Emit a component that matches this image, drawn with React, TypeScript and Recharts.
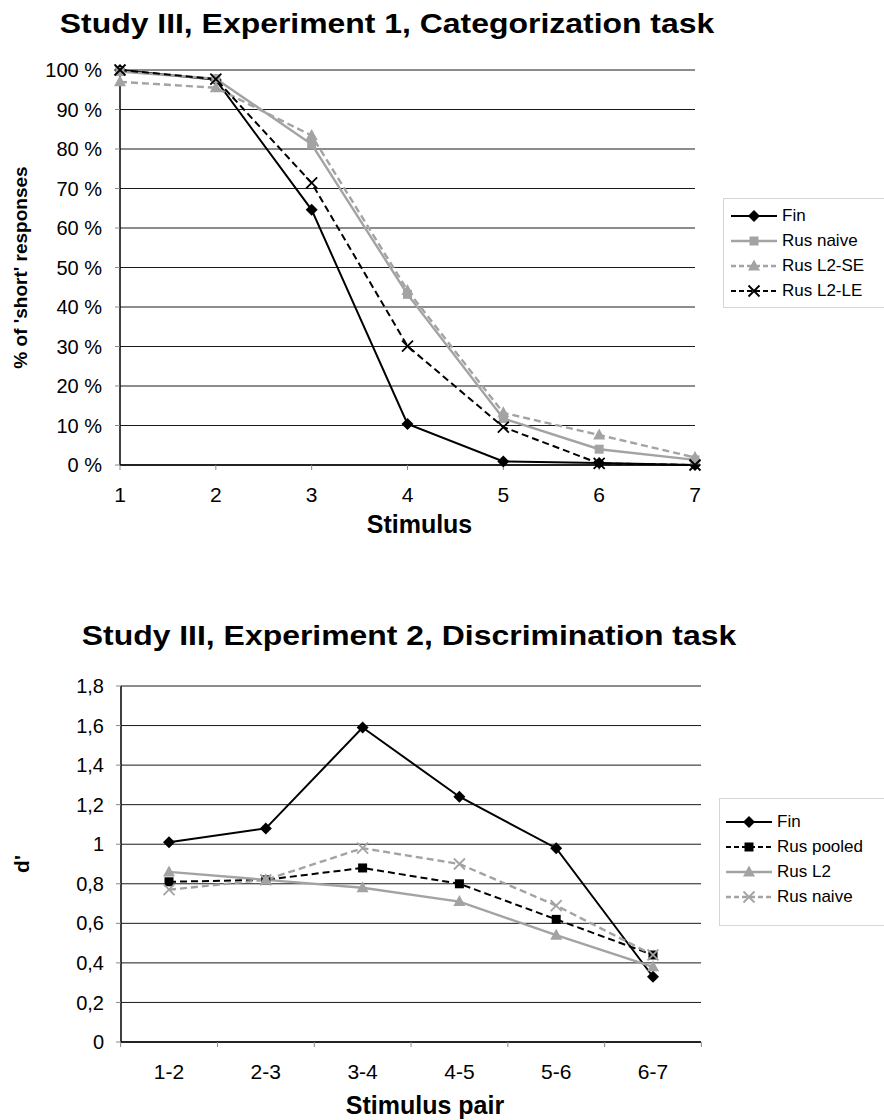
import React from 'react';
import { LineChart, Line, XAxis, YAxis, CartesianGrid, Legend } from 'recharts';

// Experiment 1: categorization (% of 'short' responses)
const stimuli = ['1', '2', '3', '4', '5', '6', '7'];
const finCat = [100, 97.5, 64.6, 10.4, 0.9, 0.5, 0];
const rusNaiveCat = [99.6, 97.8, 81.2, 43.2, 11.8, 4, 1.3];
const rusL2SE = [97, 95.5, 83.4, 44.2, 13.2, 7.6, 1.9];
const rusL2LE = [100, 97.7, 71.4, 30.1, 9.6, 0.4, 0];
const pctTicks = [0, 10, 20, 30, 40, 50, 60, 70, 80, 90, 100];

// Experiment 2: discrimination (d')
const pairs = ['1-2', '2-3', '3-4', '4-5', '5-6', '6-7'];
const finDis = [1.01, 1.08, 1.59, 1.24, 0.98, 0.33];
const rusPooled = [0.81, 0.82, 0.88, 0.8, 0.62, 0.44];
const rusL2 = [0.86, 0.82, 0.78, 0.71, 0.54, 0.38];
const rusNaiveDis = [0.77, 0.82, 0.98, 0.9, 0.69, 0.44];
const dTicks = [0, 0.2, 0.4, 0.6, 0.8, 1, 1.2, 1.4, 1.6, 1.8];

const FONT = '"Liberation Sans", Arial, sans-serif';
const GRAY = '#a3a3a3';

const catData = stimuli.map((s, i) => ({
  s,
  fin: finCat[i],
  naive: rusNaiveCat[i],
  se: rusL2SE[i],
  le: rusL2LE[i],
}));

const disData = pairs.map((p, i) => ({
  p,
  fin: finDis[i],
  pooled: rusPooled[i],
  l2: rusL2[i],
  naive: rusNaiveDis[i],
}));

type Shape = 'diamond' | 'square' | 'triangle' | 'x';

const Marker = ({ shape, color, cx, cy }: { shape: Shape; color: string; cx: number; cy: number }) => {
  if (cx == null || cy == null) return null;
  if (shape === 'diamond')
    return <polygon points={`${cx},${cy - 6} ${cx + 6},${cy} ${cx},${cy + 6} ${cx - 6},${cy}`} fill={color} />;
  if (shape === 'square') return <rect x={cx - 4.5} y={cy - 4.5} width={9} height={9} fill={color} />;
  if (shape === 'triangle')
    return <polygon points={`${cx},${cy - 6.5} ${cx + 6},${cy + 4.5} ${cx - 6},${cy + 4.5}`} fill={color} />;
  return (
    <path
      d={`M${cx - 5.5},${cy - 5.5}L${cx + 5.5},${cy + 5.5}M${cx + 5.5},${cy - 5.5}L${cx - 5.5},${cy + 5.5}`}
      stroke={color}
      strokeWidth={1.8}
    />
  );
};

type Series = { key: string; name: string; color: string; dash?: string; shape: Shape; width: number };

const catSeries: Series[] = [
  { key: 'fin', name: 'Fin', color: '#000', shape: 'diamond', width: 2 },
  { key: 'naive', name: 'Rus naive', color: GRAY, shape: 'square', width: 2.4 },
  { key: 'se', name: 'Rus L2-SE', color: GRAY, dash: '7 4', shape: 'triangle', width: 2.4 },
  { key: 'le', name: 'Rus L2-LE', color: '#000', dash: '7 4', shape: 'x', width: 2 },
];

const disSeries: Series[] = [
  { key: 'fin', name: 'Fin', color: '#000', shape: 'diamond', width: 2 },
  { key: 'pooled', name: 'Rus pooled', color: '#000', dash: '7 4', shape: 'square', width: 2 },
  { key: 'l2', name: 'Rus L2', color: GRAY, shape: 'triangle', width: 2.4 },
  { key: 'naive', name: 'Rus naive', color: GRAY, dash: '7 4', shape: 'x', width: 2.4 },
];

const LegendBox = ({ items, pad }: { items: Series[]; pad: string }) => (
  <div
    style={{
      border: '1px solid #d6d6d6',
      background: '#fff',
      padding: pad,
      width: 200,
      fontFamily: FONT,
      fontSize: 17,
      color: '#000',
    }}
  >
    {items.map((it) => (
      <div key={it.key} style={{ display: 'flex', alignItems: 'center', height: 25 }}>
        <svg width={48} height={14}>
          <line x1={0} x2={46} y1={7} y2={7} stroke={it.color} strokeWidth={it.width} strokeDasharray={it.dash ? '5 3' : undefined} />
          <Marker shape={it.shape} color={it.color} cx={23} cy={7} />
        </svg>
        <span style={{ marginLeft: 3 }}>{it.name}</span>
      </div>
    ))}
  </div>
);

const renderLines = (series: Series[]) =>
  series.map((s) => (
    <Line
      key={s.key}
      dataKey={s.key}
      name={s.name}
      stroke={s.color}
      strokeWidth={s.width}
      strokeDasharray={s.dash}
      isAnimationActive={false}
      dot={(p: any) => <Marker key={`${s.key}-${p.index}`} shape={s.shape} color={s.color} cx={p.cx} cy={p.cy} />}
      activeDot={false}
    />
  ));

const dFormat = (v: number) => String(Math.round(v * 10) / 10).replace('.', ',');

// tick marks sit between categories on the discrimination chart
const PairTick = (props: any) => {
  const { x, y, payload, index, visibleTicksCount, width } = props;
  const half = width / visibleTicksCount / 2;
  return (
    <g>
      <line x1={x - half} x2={x - half} y1={y - 8} y2={y - 3} stroke="#888" />
      {index === visibleTicksCount - 1 && <line x1={x + half} x2={x + half} y1={y - 8} y2={y - 3} stroke="#888" />}
      <text x={x} y={y + 29} textAnchor="middle" fontSize={21} fontFamily={FONT} fill="#000">
        {payload.value}
      </text>
    </g>
  );
};

const Title = ({ text, center, top }: { text: string; center: number; top: number }) => (
  <div
    style={{
      position: 'absolute',
      left: center - 400,
      top,
      width: 800,
      textAlign: 'center',
      fontFamily: FONT,
      fontWeight: 'bold',
      fontSize: 28,
      lineHeight: '32px',
      color: '#000',
      whiteSpace: 'nowrap',
      transform: 'scaleX(1.14)',
    }}
  >
    {text}
  </div>
);

export default function App() {
  return (
    <div style={{ position: 'absolute', top: 0, left: 0, width: 884, height: 1120, overflow: 'hidden', background: '#fff' }}>
      <Title text="Study III, Experiment 1, Categorization task" center={387} top={8} />
      <div style={{ position: 'absolute', top: 0, left: 0 }}>
        <LineChart width={884} height={560} data={catData} margin={{ top: 70, right: 189, bottom: 0, left: 0 }}>
          <CartesianGrid vertical={false} stroke="#1a1a1a" />
          <XAxis
            dataKey="s"
            height={95}
            axisLine={{ stroke: '#000', strokeWidth: 1.5 }}
            tickLine={{ stroke: '#888' }}
            tickSize={5}
            tickMargin={17}
            tick={{ fontSize: 21, fontFamily: FONT, fill: '#000' }}
            label={{
              value: 'Stimulus',
              position: 'insideBottom',
              offset: 27,
              dx: 12,
              style: { fontSize: 25, fontWeight: 'bold', fontFamily: FONT, fill: '#000' },
            }}
          />
          <XAxis xAxisId="top" dataKey="s" orientation="top" height={0} tick={false} tickLine={false} axisLine={{ stroke: GRAY, strokeWidth: 1.5 }} />
          <YAxis
            width={120}
            domain={[0, 100]}
            ticks={pctTicks}
            interval={0}
            axisLine={{ stroke: '#000', strokeWidth: 1.5 }}
            tickLine={{ stroke: '#888' }}
            tickSize={5}
            tickMargin={13}
            tickFormatter={(v: number) => `${v} %`}
            tick={{ fontSize: 20, fontFamily: FONT, fill: '#000' }}
            label={{
              value: "% of 'short' responses",
              angle: -90,
              position: 'insideLeft',
              offset: 20,
              style: { textAnchor: 'middle', fontSize: 19, fontWeight: 'bold', fontFamily: FONT, fill: '#000' },
            }}
          />
          <YAxis yAxisId="right" orientation="right" width={0} tick={false} tickLine={false} axisLine={{ stroke: GRAY, strokeWidth: 1.5 }} />
          <Legend
            layout="vertical"
            align="center"
            verticalAlign="middle"
            wrapperStyle={{ position: 'absolute', left: 723, top: 198, width: 210 }}
            content={() => <LegendBox items={catSeries} pad="4px 0 4px 7px" />}
          />
          {renderLines(catSeries)}
        </LineChart>
      </div>

      <Title text="Study III, Experiment 2, Discrimination task" center={409} top={620} />
      <div style={{ position: 'absolute', top: 600, left: 0 }}>
        <LineChart width={884} height={520} data={disData} margin={{ top: 86, right: 183, bottom: 0, left: 0 }}>
          <CartesianGrid vertical={false} stroke="#1a1a1a" />
          <XAxis
            dataKey="p"
            height={78}
            padding={{ left: 48, right: 48 }}
            axisLine={{ stroke: '#000', strokeWidth: 1.5 }}
            tickLine={false}
            tick={<PairTick />}
            interval={0}
            label={{
              value: 'Stimulus pair',
              position: 'insideBottom',
              offset: 6,
              dx: 14,
              style: { fontSize: 25, fontWeight: 'bold', fontFamily: FONT, fill: '#000' },
            }}
          />
          <XAxis xAxisId="top" dataKey="p" orientation="top" height={0} tick={false} tickLine={false} axisLine={{ stroke: GRAY, strokeWidth: 1.5 }} />
          <YAxis
            width={121}
            domain={[0, 1.8]}
            ticks={dTicks}
            interval={0}
            axisLine={{ stroke: '#000', strokeWidth: 1.5 }}
            tickLine={{ stroke: '#888' }}
            tickSize={5}
            tickMargin={12}
            tickFormatter={dFormat}
            tick={{ fontSize: 20, fontFamily: FONT, fill: '#000' }}
            label={{
              value: "d'",
              angle: -90,
              position: 'insideLeft',
              offset: 22,
              style: { textAnchor: 'middle', fontSize: 21, fontWeight: 'bold', fontFamily: FONT, fill: '#000' },
            }}
          />
          <YAxis yAxisId="right" orientation="right" width={0} tick={false} tickLine={false} axisLine={{ stroke: GRAY, strokeWidth: 1.5 }} />
          <Legend
            layout="vertical"
            align="center"
            verticalAlign="middle"
            wrapperStyle={{ position: 'absolute', left: 719, top: 198, width: 210 }}
            content={() => <LegendBox items={disSeries} pad="10px 0 16px 6px" />}
          />
          {renderLines(disSeries)}
        </LineChart>
      </div>
    </div>
  );
}
